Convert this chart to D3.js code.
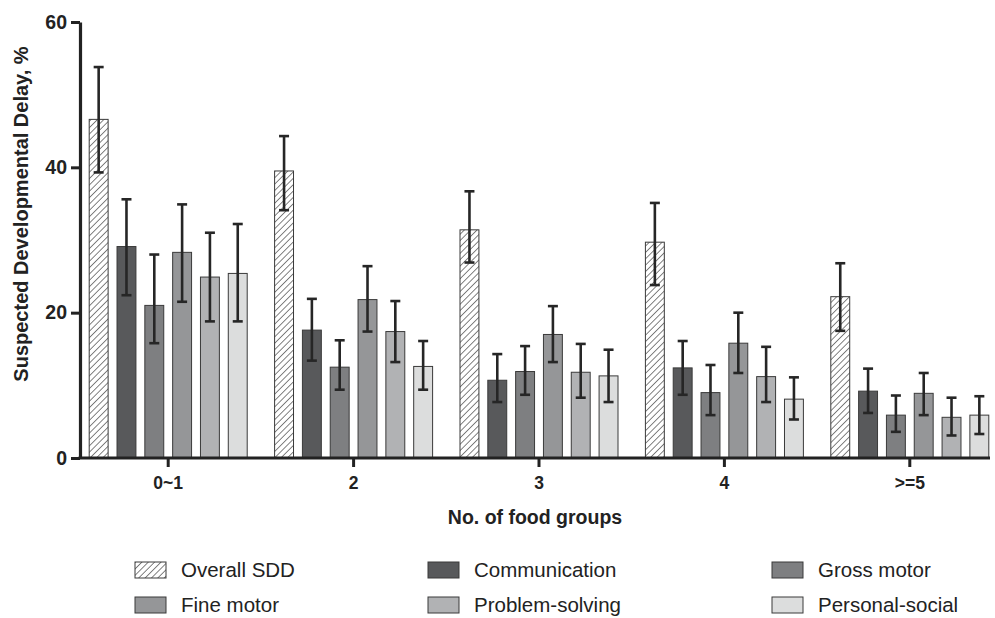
<!DOCTYPE html>
<html>
<head>
<meta charset="utf-8">
<script src="https://cdn.jsdelivr.net/npm/d3@7"></script>
<style>
  body { margin: 0; background: #fff; }
  svg { display: block; font-family: "Liberation Sans", Arial, sans-serif; }
</style>
</head>
<body>
<script>
// categories and series
const categories = ["0~1", "2", "3", "4", ">=5"];
const seriesNames = ["Overall SDD", "Communication", "Gross motor", "Fine motor", "Problem-solving", "Personal-social"];
const seriesColors = ["url(#hatch)", "#58595b", "#7e7f81", "#959698", "#b1b2b4", "#dcdddd"];

// bar heights (%) per series, in category order
const overall = [46.6, 39.5, 31.4, 29.7, 22.2];
const communication = [29.1, 17.6, 10.7, 12.4, 9.2];
const grossMotor = [21.0, 12.5, 11.9, 9.0, 5.9];
const fineMotor = [28.3, 21.8, 17.0, 15.8, 8.9];
const problemSolving = [24.9, 17.4, 11.8, 11.2, 5.6];
const personalSocial = [25.4, 12.6, 11.3, 8.1, 5.9];

// error bar lows / highs
const overallLo = [39.3, 34.1, 26.9, 23.8, 17.5];
const overallHi = [53.8, 44.3, 36.7, 35.1, 26.8];
const communicationLo = [22.4, 13.4, 7.7, 8.7, 6.2];
const communicationHi = [35.6, 21.9, 14.3, 16.1, 12.3];
const grossMotorLo = [15.8, 9.4, 8.7, 5.9, 3.6];
const grossMotorHi = [28.0, 16.2, 15.4, 12.8, 8.6];
const fineMotorLo = [21.5, 17.4, 13.2, 11.7, 5.9];
const fineMotorHi = [34.9, 26.4, 20.9, 20.0, 11.7];
const problemSolvingLo = [18.8, 13.2, 8.3, 7.7, 3.1];
const problemSolvingHi = [31.0, 21.6, 15.7, 15.3, 8.3];
const personalSocialLo = [18.8, 9.4, 7.7, 5.3, 3.3];
const personalSocialHi = [32.2, 16.1, 14.9, 11.1, 8.5];

const yTicks = [0, 20, 40, 60];

const values = [overall, communication, grossMotor, fineMotor, problemSolving, personalSocial];
const lows = [overallLo, communicationLo, grossMotorLo, fineMotorLo, problemSolvingLo, personalSocialLo];
const highs = [overallHi, communicationHi, grossMotorHi, fineMotorHi, problemSolvingHi, personalSocialHi];

// flat table for drawing
const rows = [];
categories.forEach((c, ci) => {
  seriesNames.forEach((s, si) => {
    rows.push({ cat: c, series: s, si: si, v: values[si][ci], lo: lows[si][ci], hi: highs[si][ci] });
  });
});

const W = 995, H = 618;
const svg = d3.select("body").append("svg").attr("width", W).attr("height", H);

// hatch pattern for Overall SDD
const defs = svg.append("defs");
const pat = defs.append("pattern")
  .attr("id", "hatch")
  .attr("patternUnits", "userSpaceOnUse")
  .attr("width", 4.5).attr("height", 4.5)
  .attr("patternTransform", "rotate(45)");
pat.append("rect").attr("width", 4.5).attr("height", 4.5).attr("fill", "#fff");
pat.append("line").attr("x1", 0).attr("y1", 0).attr("x2", 0).attr("y2", 4.5)
  .attr("stroke", "#2e2e2e").attr("stroke-width", 1.2);

const axisX = 80, axisY = 458;

const x = d3.scaleBand().domain(categories).range([75.5, 1002.5]);
const xs = d3.scaleBand().domain(d3.range(seriesNames.length))
  .range([x.bandwidth() / 2 - 79, x.bandwidth() / 2 + 79])
  .paddingInner(0.32).paddingOuter(0);
const y = d3.scaleLinear().domain([0, 60]).range([axisY, 22]);

// bars
const g = svg.append("g");
g.selectAll("rect.bar")
  .data(rows)
  .join("rect")
  .attr("class", "bar")
  .attr("x", d => x(d.cat) + xs(d.si))
  .attr("y", d => y(d.v))
  .attr("width", xs.bandwidth())
  .attr("height", d => y(0) - y(d.v))
  .attr("fill", d => seriesColors[d.si])
  .attr("stroke", "#3a3a3a")
  .attr("stroke-width", 1);

// error bars
const eb = g.selectAll("g.err").data(rows).join("g").attr("class", "err")
  .attr("transform", d => `translate(${x(d.cat) + xs(d.si) + xs.bandwidth() / 2},0)`);
eb.append("line")
  .attr("y1", d => y(d.lo)).attr("y2", d => y(d.hi))
  .attr("stroke", "#262626").attr("stroke-width", 2.6);
eb.append("line")
  .attr("x1", -5).attr("x2", 5)
  .attr("y1", d => y(d.hi)).attr("y2", d => y(d.hi))
  .attr("stroke", "#262626").attr("stroke-width", 2.6);
eb.append("line")
  .attr("x1", -5).attr("x2", 5)
  .attr("y1", d => y(d.lo)).attr("y2", d => y(d.lo))
  .attr("stroke", "#262626").attr("stroke-width", 2.6);

// y axis
const yAxis = svg.append("g")
  .attr("transform", `translate(${axisX},0)`)
  .call(d3.axisLeft(y).tickValues(yTicks).tickSize(9).tickSizeOuter(0).tickPadding(4));
yAxis.select(".domain").attr("stroke", "#222").attr("stroke-width", 3.2);
yAxis.selectAll(".tick line").attr("stroke", "#222").attr("stroke-width", 3);
yAxis.selectAll(".tick text")
  .attr("fill", "#222")
  .style("font-size", "19.5px").style("font-weight", "bold")
  .attr("font-family", "Liberation Sans, Arial, sans-serif");

// x axis
const xAxis = svg.append("g")
  .attr("transform", `translate(0,${axisY})`)
  .call(d3.axisBottom(x).tickSize(9).tickSizeOuter(0).tickPadding(10));
xAxis.select(".domain").remove();
xAxis.append("line")
  .attr("x1", axisX - 1.5).attr("x2", 990)
  .attr("stroke", "#222").attr("stroke-width", 3.2);
xAxis.selectAll(".tick line").attr("stroke", "#222").attr("stroke-width", 3);
xAxis.selectAll(".tick text")
  .attr("fill", "#222")
  .style("font-size", "17.5px").style("font-weight", "bold")
  .attr("font-family", "Liberation Sans, Arial, sans-serif");

// axis titles
svg.append("text")
  .attr("transform", "translate(28,214) rotate(-90)")
  .attr("text-anchor", "middle")
  .attr("fill", "#222")
  .style("font-size", "20px").style("font-weight", "bold")
  .text("Suspected Developmental Delay, %");

svg.append("text")
  .attr("x", 535).attr("y", 524)
  .attr("text-anchor", "middle")
  .attr("fill", "#222")
  .style("font-size", "19.5px").style("font-weight", "bold")
  .text("No. of food groups");

// legend
const legCols = [135, 428, 772];
const legRows = [562, 597];
const leg = svg.append("g").selectAll("g")
  .data(seriesNames)
  .join("g")
  .attr("transform", (d, i) => `translate(${legCols[i % 3]},${legRows[Math.floor(i / 3)]})`);
leg.append("rect")
  .attr("width", 31).attr("height", 16)
  .attr("fill", (d, i) => seriesColors[i])
  .attr("stroke", "#3a3a3a").attr("stroke-width", 1);
leg.append("text")
  .attr("x", 46).attr("y", 15)
  .attr("fill", "#222")
  .style("font-size", "20.5px")
  .text(d => d);
</script>
</body>
</html>
